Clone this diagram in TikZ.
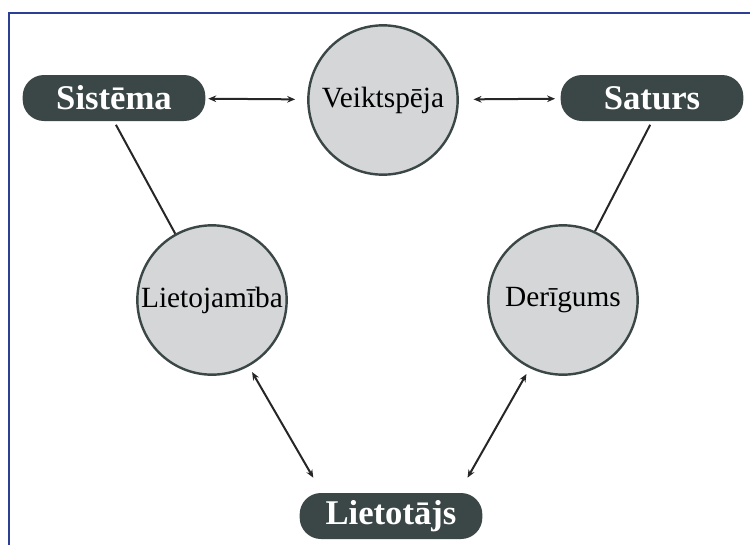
\documentclass[tikz,border=0pt]{standalone}
\usepackage{fontspec}
\setmainfont{Liberation Serif}
\usepackage{xcolor}
\usetikzlibrary{calc,arrows.meta}
\definecolor{pillgray}{HTML}{3B4646}
\definecolor{ballgray}{HTML}{D4D6D7}
\definecolor{frameblue}{HTML}{2B3F95}

\begin{document}
\begin{tikzpicture}[x=0.75pt,y=-0.75pt,
    pill/.style={rectangle,rounded corners=16pt,fill=pillgray,text=white,
        font=\fontsize{26}{26}\selectfont\bfseries,
        minimum width=137pt,minimum height=34.5pt,inner sep=0pt},
    ball/.style={circle,draw=pillgray,line width=1.8pt,fill=ballgray,
        minimum size=112pt,inner sep=0pt,font=\fontsize{22}{22}\selectfont},
    link/.style={line width=1.5pt,black!85},
    twoway/.style={link,{Stealth[length=6pt,width=5pt]}-{Stealth[length=6pt,width=5pt]}}]
    \useasboundingbox (0,0) rectangle (750,544);
    \clip (0,0) rectangle (750,544);
    \draw[frameblue,line width=1.6pt] (9,13) rectangle (780,580);

    \node[pill] (sys) at (114,98) {Sistēma};
    \node[ball] (perf) at (383,100) {Veiktspēja};
    \node[pill] (cont) at (652,98) {Saturs};
    \node[ball] (usab) at (212,300) {Lietojamība};
    \node[ball] (valid) at (563,300) {Derīgums};
    \node[pill] (user) at (391,516) {Lietotājs};

    \draw[twoway,shorten <=2pt,shorten >=9pt] (sys) -- (perf);
    \draw[twoway,shorten <=11pt,shorten >=4pt] (perf) -- (cont);
    \draw[link,shorten <=3pt] (sys.south) -- (usab.119);
    \draw[link,shorten <=3pt] (cont.south) -- (valid.65);
    \draw[twoway,shorten <=5pt,shorten >=13pt] (usab.-61) -- ($(user.north)+(-69,0)$);
    \draw[twoway,shorten <=5pt,shorten >=13pt] (valid.244) -- ($(user.north)+(68,0)$);

\end{tikzpicture}
\end{document}
